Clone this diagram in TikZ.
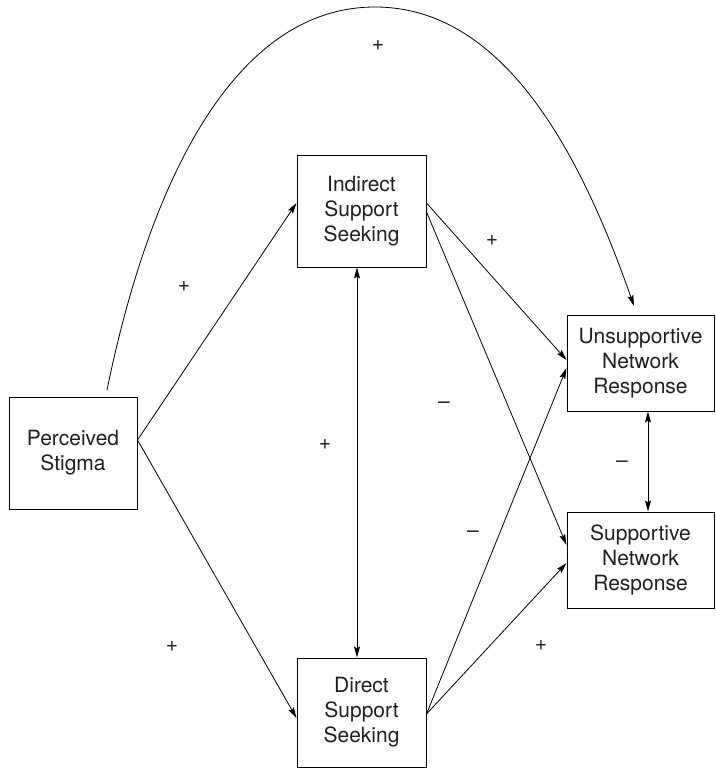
\documentclass[tikz,border=0pt]{standalone}
\usepackage{fontspec}
\setmainfont{TeX Gyre Heros}
\usetikzlibrary{arrows.meta}
\begin{document}
\begin{tikzpicture}[x=1pt,y=-1pt,
  box/.style={draw, line width=1pt, align=center, inner sep=0pt,
    font=\fontsize{21}{25}\selectfont, text=black!88},
  link/.style={line width=0.8pt, -{Stealth[length=11pt,width=6pt,inset=2pt]}},
  both/.style={line width=0.8pt, {Stealth[length=11pt,width=6pt,inset=2pt]}-{Stealth[length=11pt,width=6pt,inset=2pt]}},
  sign/.style={font=\fontsize{21}{24}\selectfont, text=black!88, inner sep=0pt}]
\useasboundingbox (0,0) rectangle (715,768);

% variables
\node[box, minimum width=128pt, minimum height=112pt] (stig) at (73,453) {Perceived\\Stigma};
\node[box, minimum width=129pt, minimum height=112pt] (ind) at (361.5,211) {Indirect\\Support\\Seeking};
\node[box, minimum width=129pt, minimum height=109pt] (dir) at (361.5,712.5) {Direct\\Support\\Seeking};
\node[box, minimum width=147pt, minimum height=96pt] (uns) at (640.5,363) {Unsupportive\\Network\\Response};
\node[box, minimum width=147pt, minimum height=96pt] (sup) at (640.5,560) {Supportive\\Network\\Response};

% ends and top of the long curved path
\coordinate (cstart) at (107,390);
\coordinate (ctop) at (375,7);
\coordinate (cend) at (634,306);

% paths
\draw[link] ([yshift=13pt]stig.east) -- ([yshift=8pt]ind.west);
\draw[link] ([yshift=13pt]stig.east) -- ([yshift=-5.5pt]dir.west);
\draw[link] (cstart) .. controls (150,180) and (235,7) .. (ctop)
                     .. controls (505,7) and (581.5,156) .. (cend);
\draw[both] ([xshift=-4.5pt]ind.south) -- ([xshift=-4.5pt]dir.north);
\draw[link] ([yshift=8pt]ind.east) -- ([yshift=3pt]uns.west);
\draw[link] ([yshift=-1pt]ind.east) -- ([yshift=15pt]sup.west);
\draw[link] ([yshift=-1.5pt]dir.east) -- ([yshift=-5pt]uns.west);
\draw[link] ([yshift=-1.5pt]dir.east) -- ([yshift=-3pt]sup.west);
\draw[both] ([xshift=7.5pt]uns.south) -- ([xshift=7.5pt]sup.north);

% signs of the paths
\node[sign] (s1) at (378,46) {+};
\node[sign] (s2) at (184,287) {+};
\node[sign] (s3) at (492,241) {+};
\node[sign] (s4) at (444,405) {--};
\node[sign] (s5) at (325,445) {+};
\node[sign] (s6) at (473,534) {--};
\node[sign] (s7) at (622,464) {--};
\node[sign] (s8) at (172,647) {+};
\node[sign] (s9) at (541,646) {+};
\end{tikzpicture}
\end{document}
